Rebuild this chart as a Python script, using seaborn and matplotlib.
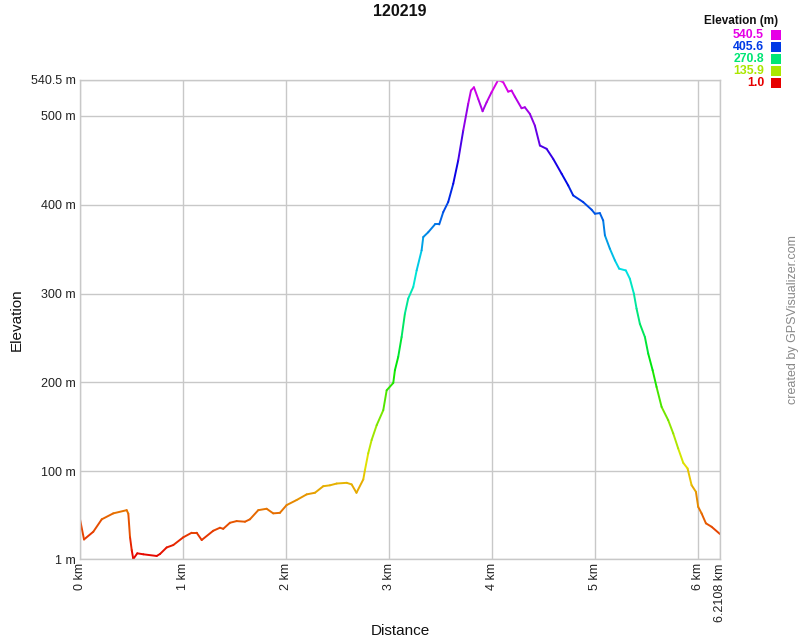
import numpy as np
import pandas as pd
import matplotlib
matplotlib.use("Agg")
import matplotlib.pyplot as plt
import seaborn as sns
from matplotlib.colors import LinearSegmentedColormap, hsv_to_rgb

# ---- data ----
distance_km = [0.000, 0.039, 0.129, 0.211, 0.323, 0.453, 0.469, 0.485, 0.502, 0.517,
               0.556, 0.614, 0.744, 0.776, 0.841, 0.905, 1.002, 1.084, 1.132, 1.181,
               1.293, 1.358, 1.390, 1.455, 1.520, 1.601, 1.649, 1.730, 1.811, 1.875,
               1.940, 2.005, 2.102, 2.200, 2.280, 2.361, 2.426, 2.491, 2.588, 2.636,
               2.683, 2.749, 2.765, 2.797, 2.830, 2.879, 2.943, 2.976, 3.040, 3.056,
               3.088, 3.121, 3.153, 3.185, 3.234, 3.267, 3.315, 3.331, 3.379, 3.444,
               3.486, 3.525, 3.573, 3.622, 3.670, 3.719, 3.767, 3.794, 3.823, 3.864,
               3.907, 3.946, 3.994, 4.058, 4.107, 4.155, 4.188, 4.220, 4.285, 4.317,
               4.366, 4.414, 4.463, 4.528, 4.592, 4.674, 4.738, 4.786, 4.883, 4.965,
               4.997, 5.045, 5.077, 5.094, 5.142, 5.191, 5.232, 5.297, 5.336, 5.375,
               5.401, 5.433, 5.482, 5.514, 5.557, 5.595, 5.644, 5.708, 5.757, 5.805,
               5.854, 5.896, 5.935, 5.977, 5.999, 6.032, 6.074, 6.129, 6.2108]
elevation_m = [45.7, 23.0, 31.7, 45.7, 52.4, 56.0, 52.0, 26.0, 11.0, 1.0,
               7.4, 6.3, 4.4, 6.6, 14.0, 16.7, 25.4, 30.6, 30.6, 22.4,
               32.8, 36.2, 35.0, 41.8, 43.7, 43.0, 45.7, 56.0, 57.6, 52.4,
               53.0, 61.7, 67.4, 73.8, 75.6, 83.0, 84.0, 86.0, 86.8, 85.0,
               75.6, 90.6, 101.0, 120.0, 135.0, 151.7, 168.6, 191.0, 199.3, 213.6,
               228.6, 251.0, 277.4, 294.3, 307.3, 326.0, 348.6, 363.6, 369.0, 377.8,
               377.8, 391.7, 403.0, 423.6, 449.8, 483.6, 513.6, 528.6, 532.3, 519.3,
               505.3, 515.4, 526.7, 540.5, 538.0, 527.4, 528.6, 521.8, 508.7, 509.8,
               502.3, 489.2, 466.7, 463.0, 451.7, 434.9, 421.7, 410.5, 403.0, 394.4,
               389.9, 390.6, 382.3, 365.5, 350.5, 337.3, 328.0, 326.0, 316.7, 299.9,
               283.0, 266.0, 251.0, 232.4, 213.6, 194.8, 172.3, 157.4, 142.4, 125.5,
               109.3, 103.0, 84.2, 76.7, 59.8, 52.4, 41.2, 37.3, 29.1]

y_ticks = [1, 100, 200, 300, 400, 500, 540.5]
y_tick_labels = ["1 m", "100 m", "200 m", "300 m", "400 m", "500 m", "540.5 m"]
x_ticks = [0, 1, 2, 3, 4, 5, 6, 6.2108]
x_tick_labels = ["0 km", "1 km", "2 km", "3 km", "4 km", "5 km", "6 km", "6.2108 km"]
legend_values = ["540.5", "405.6", "270.8", "135.9", "1.0"]
legend_levels = [540.5, 405.6, 270.8, 135.9, 1.0]
elev_min, elev_max = 1.0, 540.5
title = "120219"

# ---- colormap: hue ramp red -> magenta ----
hues = np.linspace(0, 300 / 360, 64)
cols = [hsv_to_rgb((h, 1.0, 0.9)) for h in hues]
cmap = LinearSegmentedColormap.from_list("gpsv", cols)

def color_of(v):
    return cmap((v - elev_min) / (elev_max - elev_min))

# build segment table
rows = []
for i in range(len(distance_km) - 1):
    mid = 0.5 * (elevation_m[i] + elevation_m[i + 1])
    for j in (i, i + 1):
        rows.append({"dist": distance_km[j], "elev": elevation_m[j], "seg": i, "segelev": mid})
df = pd.DataFrame(rows)

sns.set_theme(style="whitegrid")
plt.rcParams["font.family"] = ["Liberation Sans", "DejaVu Sans"]

fig = plt.figure(figsize=(8, 6.4), dpi=100)
ax = fig.add_axes([0.1, 1 - 559 / 640, 0.8, (559 - 80) / 640])
ax.set_facecolor("white")

sns.lineplot(data=df, x="dist", y="elev", hue="segelev", units="seg", estimator=None,
             palette=cmap, hue_norm=(elev_min, elev_max), legend=False, ax=ax,
             linewidth=1.4, solid_capstyle="round", sort=False)

ax.set_xlim(0, 6.2108)
ax.set_ylim(elev_min, elev_max)
ax.set_xticks(x_ticks)
ax.set_xticklabels(x_tick_labels, rotation=90, fontsize=9, color="#222222", va="top", ha="center")
ax.set_yticks(y_ticks)
ax.set_yticklabels(y_tick_labels, fontsize=9, color="#222222")
ax.tick_params(axis="x", length=0, pad=3)
ax.tick_params(axis="y", length=0, pad=3)
ax.grid(True, color="#c8c8c8", linewidth=1)
for s in ax.spines.values():
    s.set_color("#c8c8c8")
    s.set_linewidth(1)
ax.set_xlabel("")
ax.set_ylabel("")

fig.text(0.5, 1 - 12 / 640, title, ha="center", va="center", fontsize=11.5, fontweight="bold", color="#111111")
fig.text(400 / 800, 1 - 631 / 640, "Distance", ha="center", va="center", fontsize=11, color="#111111")
fig.text(17 / 800, 1 - 320 / 640, "Elevation", ha="center", va="center", rotation=90, fontsize=11, color="#111111")
fig.text(793 / 800, 1 - 320 / 640, "created by GPSVisualizer.com", ha="center", va="center",
         rotation=90, fontsize=9, color="#888888")

# legend
fig.text(778 / 800, 1 - 21 / 640, "Elevation (m)", ha="right", va="center", fontsize=8.5,
         fontweight="bold", color="#111111")
for k, (lab, lev) in enumerate(zip(legend_values, legend_levels)):
    yc = 35 + 12 * k
    c = color_of(lev)
    fig.text(764 / 800, 1 - yc / 640, lab, ha="right", va="center", fontsize=8.8,
             fontweight="bold", color=c)
    fig.patches.append(plt.Rectangle((771 / 800, 1 - (yc + 5) / 640), 10 / 800, 10 / 640,
                                     transform=fig.transFigure, facecolor=c, edgecolor="none"))

fig.savefig("out.png", dpi=100, facecolor="white")
